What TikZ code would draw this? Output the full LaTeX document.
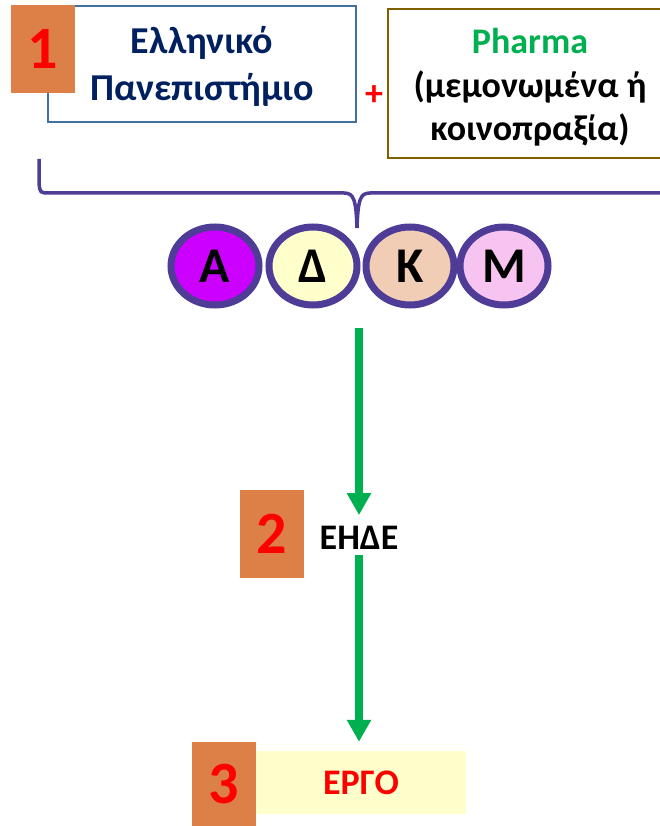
\documentclass[tikz,border=0pt]{standalone}
\usepackage{fontspec}
\setmainfont{Carlito}
\usepackage{xcolor}
\usepackage{tikz}
\usetikzlibrary{arrows.meta,shapes.geometric}

\definecolor{numorange}{HTML}{DD8047}
\definecolor{univnavy}{HTML}{002060}
\definecolor{univblue}{HTML}{41719C}
\definecolor{pharmabrown}{HTML}{7F6000}
\definecolor{pharmagreen}{HTML}{00B050}
\definecolor{ringpurple}{HTML}{4E3C96}
\definecolor{afill}{HTML}{CC00FF}
\definecolor{dfill}{HTML}{FFFFCC}
\definecolor{kfill}{HTML}{F0CDB4}
\definecolor{mfill}{HTML}{F7C3F0}

\begin{document}
\begin{tikzpicture}[x=1pt, y=-1pt,
	numbox/.style={fill=numorange, text=red, font=\fontsize{60}{60}\selectfont\bfseries, minimum width=64, minimum height=88, inner sep=0},
	textbox/.style={draw, line width=1.5, align=center, inner sep=0, font=\fontsize{38}{47}\selectfont\bfseries},
	letter/.style={ellipse, draw=ringpurple, line width=7, minimum width=88, minimum height=78, inner sep=0, font=\fontsize{50}{50}\selectfont\bfseries},
	flow/.style={draw=pharmagreen, line width=8, -{Triangle[width=23pt,length=22pt]}}
]
\useasboundingbox (0,0) rectangle (660,826);
\clip (0,0) rectangle (660,826);

\node[textbox, draw=univblue, text=univnavy, minimum width=308, minimum height=116] (univ) at (202,64) {\rule{0pt}{31pt}Ελληνικό\\Πανεπιστήμιο};
\node[numbox] (n1) at (43,49) {1};
\node[text=red, font=\fontsize{36}{36}\selectfont\bfseries, inner sep=0] (plus) at (374,96) {+};
\node[textbox, draw=pharmabrown, line width=2, minimum width=284, minimum height=149, font=\fontsize{36}{43.5}\selectfont\bfseries] (pharma) at (530,83.5) {\rule{0pt}{33pt}\textcolor{pharmagreen}{Pharma}\\(μεμονωμένα ή\\κοινοπραξία)};

\draw[ringpurple, line width=3.5] (39,159) -- (39,183) .. controls (40,193) .. (50,193) -- (344,193) .. controls (354,193) and (356,200) .. (357,228) .. controls (358,200) and (360,193) .. (370,193) -- (680,193);

\node[letter, fill=afill] (cA) at (215,266) {Α};
\node[letter, fill=dfill] (cD) at (313,266) {Δ};
\node[letter, fill=kfill] (cK) at (410,266) {Κ};
\node[letter, fill=mfill] (cM) at (504,266) {Μ};

\coordinate (flowstart) at (359,328);
\node[numbox] (n2) at (272,534) {2};
\node[font=\fontsize{36}{36}\selectfont\bfseries, inner sep=0] (ehde) at (359,538) {ΕΗΔΕ};

\node[fill=dfill, text=red, minimum width=210, minimum height=63, inner sep=0, font=\fontsize{36}{36}\selectfont\bfseries] (ergo) at (361,782.5) {ΕΡΓΟ};
\node[numbox, minimum height=84] (n3) at (224,784) {3};

\draw[flow, shorten >=11pt] (flowstart) -- (ehde.north);
\draw[flow, shorten <=5pt, shorten >=9pt] (ehde.south) -- (ehde.south |- ergo.north);
\end{tikzpicture}
\end{document}
